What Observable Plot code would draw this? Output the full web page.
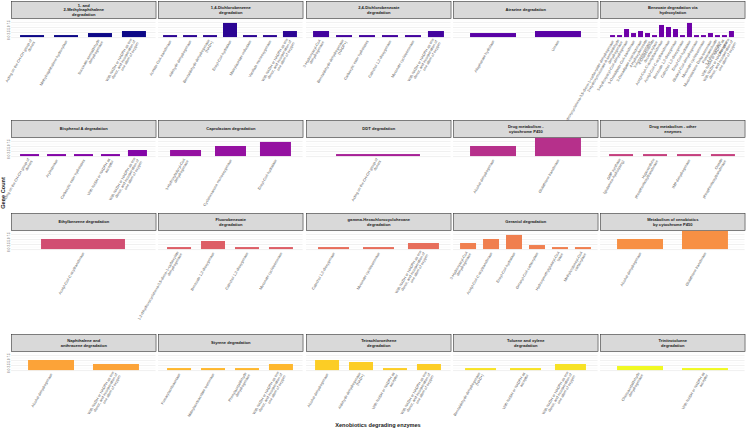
<!DOCTYPE html>
<html>
<head>
<meta charset="utf-8">
<script src="https://cdn.jsdelivr.net/npm/d3@7"></script>
<script src="https://cdn.jsdelivr.net/npm/@observablehq/plot@0.6"></script>
<style>
  body { margin: 0; background: #fff; }
  #chart { position: relative; width: 750px; height: 431px; overflow: hidden; background: #fff;
           font-family: "Liberation Sans", Arial, sans-serif; }
  #chart .cell { position: absolute; }
  #chart svg { overflow: visible; background: transparent; }
</style>
</head>
<body>
<div id="chart"></div>
<script>
// KEGG xenobiotics-degradation pathways, one panel each
const pathways = [
  "1- and\n2-Methylnaphthalene\ndegradation",
  "1,4-Dichlorobenzene\ndegradation",
  "2,4-Dichlorobenzoate\ndegradation",
  "Atrazine degradation",
  "Benzoate degradation via\nhydroxylation",
  "Bisphenol A degradation",
  "Caprolactam degradation",
  "DDT degradation",
  "Drug metabolism -\ncytochrome P450",
  "Drug metabolism - other\nenzymes",
  "Ethylbenzene degradation",
  "Fluorobenzoate\ndegradation",
  "gamma-Hexachlorocyclohexane\ndegradation",
  "Geraniol degradation",
  "Metabolism of xenobiotics\nby cytochrome P450",
  "Naphthalene and\nanthracene degradation",
  "Styrene degradation",
  "Tetrachloroethene\ndegradation",
  "Toluene and xylene\ndegradation",
  "Trinitrotoluene\ndegradation"
];

// recurring enzyme-class names
const ACT_CHCH = "Acting on the CH-CH group of\ndonors";
const WITH_ACC = "With NADH or NADPH as\nacceptor";
const WITH_O2 = "With NADH or NADPH as one\ndonor, and incorporation of\none atom of oxygen";

// enzymes found in each pathway
const enzymes = [
  [ACT_CHCH, "Methylnaphthalene hydroxylase", "Succinate-semialdehyde\ndehydrogenase", WITH_O2],
  ["Acetate CoA-transferase", "Aldehyde dehydrogenase", "Benzaldehyde dehydrogenase\n(NAD+)", "Enoyl-CoA hydratase",
   "Maleylacetate reductase", "Vanillate monooxygenase", WITH_O2],
  ["3-Hydroxyacyl-CoA\ndehydrogenase", "Benzaldehyde dehydrogenase\n(NADP+)", "Carboxylic ester hydrolases",
   "Catechol 1,2-dioxygenase", "Muconate cycloisomerase", WITH_O2],
  ["Allophanate hydrolase", "Urease"],
  ["1,2-dihydroxycyclohexa-3,5-diene-1-carboxylate dehydrogenase", "2-Hydroxymuconate-6-semialdehyde\ndehydrogenase",
   "3-Hydroxyacyl-CoA dehydrogenase", "3-Oxoadipate CoA-transferase", "3-Oxoadipate enol-lactonase",
   "4-Hydroxybenzoate\n3-monooxygenase", "4-Oxalocrotonate\ndecarboxylase", "Acetyl-CoA C-acetyltransferase",
   "Acetyl-CoA C-acyltransferase", "Benzoate 1,2-dioxygenase", "Catechol 1,2-dioxygenase", "Enoyl-CoA hydratase",
   "Glutaryl-CoA dehydrogenase", "Muconate cycloisomerase", "Muconolactone Delta-isomerase",
   "Protocatechuate\n3,4-dioxygenase", WITH_ACC, WITH_O2],
  [ACT_CHCH, "Arylesterase", "Carboxylic ester hydrolases", WITH_ACC, WITH_O2],
  ["3-Hydroxybutyryl-CoA\ndehydrogenase", "Cyclohexanone monooxygenase", "Enoyl-CoA hydratase"],
  [ACT_CHCH],
  ["Alcohol dehydrogenase", "Glutathione transferase"],
  ["GMP synthase\n(glutamine-hydrolysing)", "Hypoxanthine\nphosphoribosyltransferase", "IMP dehydrogenase",
   "Orotate\nphosphoribosyltransferase"],
  ["Acetyl-CoA C-acyltransferase"],
  ["1,2-dihydroxycyclohexa-3,5-diene-1-carboxylate\ndehydrogenase", "Benzoate 1,2-dioxygenase",
   "Catechol 1,2-dioxygenase", "Muconate cycloisomerase"],
  ["Catechol 1,2-dioxygenase", "Muconate cycloisomerase", WITH_O2],
  ["3-Hydroxyacyl-CoA\ndehydrogenase", "Acetyl-CoA C-acyltransferase", "Enoyl-CoA hydratase",
   "Geranyl-CoA carboxylase", "Hydroxymethylglutaryl-CoA\nlyase", "Methylcrotonoyl-CoA\ncarboxylase"],
  ["Alcohol dehydrogenase", "Glutathione transferase"],
  ["Alcohol dehydrogenase", WITH_O2],
  ["Fumarylacetoacetase", "Maleylacetoacetate isomerase", "Phenylacetaldehyde\ndehydrogenase", WITH_O2],
  ["Alcohol dehydrogenase", "Aldehyde dehydrogenase\n(NAD+)", WITH_ACC, WITH_O2],
  ["Benzaldehyde dehydrogenase\n(NAD+)", WITH_ACC, WITH_O2],
  ["Chloroacetaldehyde\ndehydrogenase", WITH_ACC]
];

// gene counts per enzyme, same order as above
const geneCounts = [
  [1, 1, 2, 3],
  [1, 1, 1, 7, 1, 1, 3],
  [3, 1, 1, 1, 1, 3],
  [2, 3],
  [1, 1, 4, 2, 3, 2, 1, 6, 5, 4, 1, 7, 1, 1, 2, 1, 1, 3],
  [1, 1, 1, 1, 3],
  [3, 5, 7],
  [1],
  [5, 9],
  [1, 1, 1, 1],
  [5],
  [1, 4, 1, 1],
  [1, 1, 3],
  [3, 5, 7, 2, 1, 1],
  [5, 9],
  [5, 3],
  [1, 1, 1, 3],
  [5, 4, 1, 3],
  [1, 1, 3],
  [2, 1]
];

const yMajor = [0, 2.5, 5, 7.5];
const yMinor = [1.25, 3.75, 6.25, 8.75];

// panel grid geometry
const ncol = 5;
const panelW = 144.6, gap = 2.75, left0 = 11;
const stripH = 17, panelH = 20;
const rowTops = [0.5, 120, 213, 334];
const font = "Liberation Sans, Arial, sans-serif";
const yMax = d3.max(geneCounts.flat());
const yDomain = [-0.05 * yMax, 1.05 * yMax];

const chart = document.getElementById("chart");

function place(node, x, y) {
  const div = document.createElement("div");
  div.className = "cell";
  div.style.left = x + "px";
  div.style.top = y + "px";
  div.appendChild(node);
  chart.appendChild(div);
}

pathways.forEach((title, i) => {
  const r = Math.floor(i / ncol), c = i % ncol;
  const x0 = left0 + c * (panelW + gap);
  const y0 = rowTops[r];
  const color = d3.interpolatePlasma(i / (pathways.length - 1));
  const rows = enzymes[i].map((e, j) => ({enzyme: e, count: geneCounts[i][j]}));

  // strip header
  const strip = Plot.plot({
    width: panelW, height: stripH, margin: 0,
    style: {background: "transparent", overflow: "visible", fontFamily: font},
    marks: [
      Plot.frame({fill: "#d9d9d9", stroke: "#333333", strokeWidth: 0.6}),
      Plot.text([title], {text: d => d, frameAnchor: "middle", fontSize: 4.1, fontWeight: "bold",
                          lineHeight: 1.1, fill: "#1a1a1a"})
    ]
  });
  place(strip, x0, y0);

  // bar panel
  const panel = Plot.plot({
    width: panelW, height: panelH, margin: 0,
    style: {background: "transparent", overflow: "visible", fontFamily: font, fontSize: "3.6px"},
    x: {type: "band", domain: enzymes[i], paddingInner: 0.3, paddingOuter: 0.25, align: 0.5, axis: null},
    y: {domain: yDomain, axis: null},
    marks: [
      Plot.gridY(yMinor, {stroke: "#f0f0f0", strokeOpacity: 1, strokeWidth: 0.35}),
      Plot.gridY(yMajor, {stroke: "#e6e6e6", strokeOpacity: 1, strokeWidth: 0.6}),
      Plot.barY(rows, {x: "enzyme", y: "count", fill: color}),
      Plot.axisX({tickRotate: -60, tickSize: 0, tickPadding: 2, fontSize: 3.7, lineHeight: 1.05,
                  fill: "#4d4d4d", label: null}),
      c === 0
        ? Plot.axisY(yMajor, {anchor: "left", tickSize: 0, tickPadding: 1.5, tickRotate: -90, fontSize: 3,
                              fill: "#4d4d4d", tickFormat: d3.format(".1f"), label: null})
        : null
    ]
  });
  place(panel, x0, y0 + stripH);
});

// axis titles
const ns = "http://www.w3.org/2000/svg";
const titles = document.createElementNS(ns, "svg");
titles.setAttribute("width", 750);
titles.setAttribute("height", 431);
titles.style.position = "absolute";
titles.style.left = "0px";
titles.style.top = "0px";
titles.style.pointerEvents = "none";
titles.innerHTML =
  `<text x="378" y="427" text-anchor="middle" font-family="${font}" font-size="5.6" font-weight="bold" fill="#1a1a1a">Xenobiotics degrading enzymes</text>` +
  `<text transform="translate(5,193) rotate(-90)" text-anchor="middle" font-family="${font}" font-size="5.6" font-weight="bold" fill="#1a1a1a">Gene Count</text>`;
chart.appendChild(titles);
</script>
</body>
</html>
